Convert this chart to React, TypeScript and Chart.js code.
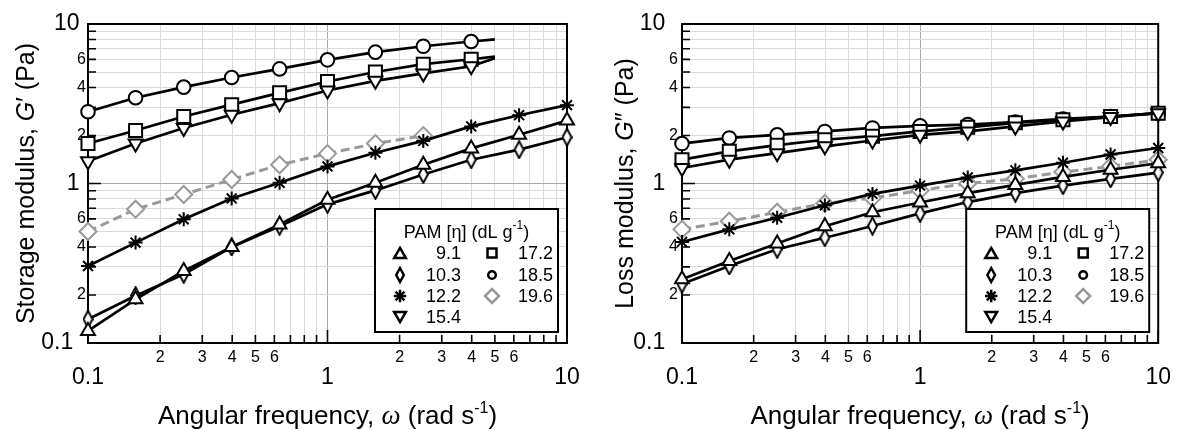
import React, { useEffect, useRef } from 'react';
import { Chart, registerables } from 'chart.js';
Chart.register(...registerables);

const FONT = 'Arial, "Liberation Sans", Helvetica, sans-serif';
const SERIF = '"Liberation Serif", "Times New Roman", serif';
const GRAY = '#999999';

// angular frequency (rad/s)
const omega = [0.1, 0.158, 0.251, 0.398, 0.631, 1.0, 1.585, 2.512, 3.981, 6.31, 10];
const omegaFitEnd = [0.1, 0.158, 0.251, 0.398, 0.631, 1.0, 1.585, 2.512, 3.981, 5.0];
const omegaGray = [0.1, 0.158, 0.251, 0.398, 0.631, 1.0, 1.585, 2.512];

// Storage modulus G' (Pa)
const gp91 = [0.119, 0.188, 0.283, 0.4, 0.554, 0.79, 1.01, 1.31, 1.66, 2.02, 2.48];
const gp103 = [0.141, 0.198, 0.27, 0.4, 0.54, 0.74, 0.905, 1.14, 1.41, 1.63, 1.95];
const gp122 = [0.304, 0.426, 0.596, 0.806, 1.01, 1.28, 1.56, 1.85, 2.28, 2.68, 3.1];
const gp154 = [1.38, 1.78, 2.23, 2.7, 3.19, 3.83, 4.4, 4.9, 5.43, 6.1];
const gp172 = [1.78, 2.15, 2.63, 3.12, 3.7, 4.36, 5.0, 5.6, 6.01, 6.25];
const gp185 = [2.82, 3.45, 4.02, 4.62, 5.23, 5.96, 6.66, 7.25, 7.77, 8.0];
const gp196 = [0.5, 0.69, 0.853, 1.06, 1.31, 1.54, 1.78, 1.995];

// Loss modulus G'' (Pa)
const gpp91 = [0.251, 0.327, 0.42, 0.54, 0.66, 0.76, 0.87, 0.98, 1.1, 1.22, 1.34];
const gpp103 = [0.234, 0.304, 0.387, 0.457, 0.541, 0.65, 0.765, 0.87, 0.97, 1.07, 1.17];
const gpp122 = [0.43, 0.516, 0.61, 0.73, 0.86, 0.97, 1.09, 1.21, 1.35, 1.52, 1.67];
const gpp154 = [1.25, 1.41, 1.55, 1.71, 1.86, 2.02, 2.12, 2.28, 2.45, 2.61, 2.76];
const gpp172 = [1.41, 1.59, 1.74, 1.88, 1.98, 2.12, 2.25, 2.4, 2.51, 2.63, 2.76];
const gpp185 = [1.78, 1.93, 2.02, 2.12, 2.23, 2.3, 2.34, 2.43, 2.54, 2.63, 2.76];
const gpp196 = [0.516, 0.58, 0.66, 0.75, 0.81, 0.905, 1.0, 1.07, 1.18, 1.28, 1.41];

// axis ticks
const tickValues = [0.1, 0.2, 0.3, 0.4, 0.5, 0.6, 0.7, 0.8, 0.9, 1, 2, 3, 4, 5, 6, 7, 8, 9, 10];
const majorTicks = [0.1, 1, 10];
const majorTickLabels = ['0.1', '1', '10'];
const xMinorDigits = [2, 3, 4, 5, 6];
const yMinorDigits = [2, 4, 6];

// legend
const legendTitle = 'PAM [η] (dL g';
const legendCol1 = [
  { label: '9.1', kind: 'tri' },
  { label: '10.3', kind: 'dia' },
  { label: '12.2', kind: 'star' },
  { label: '15.4', kind: 'tridown' },
];
const legendCol2 = [
  { label: '17.2', kind: 'sq' },
  { label: '18.5', kind: 'circ' },
  { label: '19.6', kind: 'gdia' },
];

type Series = { label: string; x: number[]; y: number[]; kind: string; hideLast?: boolean };

const storageSeries: Series[] = [
  { label: '9.1', x: omega, y: gp91, kind: 'tri' },
  { label: '10.3', x: omega, y: gp103, kind: 'dia' },
  { label: '12.2', x: omega, y: gp122, kind: 'star' },
  { label: '15.4', x: omegaFitEnd, y: gp154, kind: 'tridown', hideLast: true },
  { label: '17.2', x: omegaFitEnd, y: gp172, kind: 'sq', hideLast: true },
  { label: '18.5', x: omegaFitEnd, y: gp185, kind: 'circ', hideLast: true },
  { label: '19.6', x: omegaGray, y: gp196, kind: 'gdia' },
];
const lossSeries: Series[] = [
  { label: '9.1', x: omega, y: gpp91, kind: 'tri' },
  { label: '10.3', x: omega, y: gpp103, kind: 'dia' },
  { label: '12.2', x: omega, y: gpp122, kind: 'star' },
  { label: '15.4', x: omega, y: gpp154, kind: 'tridown' },
  { label: '17.2', x: omega, y: gpp172, kind: 'sq' },
  { label: '18.5', x: omega, y: gpp185, kind: 'circ' },
  { label: '19.6', x: omega, y: gpp196, kind: 'gdia' },
];

const isMajor = (v: number) => majorTicks.some((m) => Math.abs(m - v) < 1e-9);
const mantissa = (v: number) => Math.round(v / Math.pow(10, Math.floor(Math.log10(v) + 1e-9)));
const majorLabel = (v: number) => majorTickLabels[majorTicks.findIndex((m) => Math.abs(m - v) < 1e-9)];

type Seg = { t: string; f: string; rise?: number };
function drawRich(ctx: CanvasRenderingContext2D, segs: Seg[], x: number, y: number, align: string, rot: number) {
  ctx.save();
  ctx.translate(x, y);
  ctx.rotate(rot);
  ctx.textBaseline = 'alphabetic';
  ctx.textAlign = 'left';
  ctx.fillStyle = '#000';
  const widths = segs.map((s) => {
    ctx.font = s.f;
    return ctx.measureText(s.t).width;
  });
  const total = widths.reduce((a, b) => a + b, 0);
  let cx = align === 'center' ? -total / 2 : align === 'right' ? -total : 0;
  segs.forEach((s, i) => {
    ctx.font = s.f;
    ctx.fillText(s.t, cx, -(s.rise || 0));
    cx += widths[i];
  });
  ctx.restore();
}

function drawLegendMarker(ctx: CanvasRenderingContext2D, kind: string, x: number, y: number) {
  ctx.save();
  ctx.lineWidth = 2.5;
  ctx.strokeStyle = kind === 'gdia' ? GRAY : '#000';
  ctx.fillStyle = '#fff';
  ctx.beginPath();
  if (kind === 'tri') {
    const r = 6.8;
    const yc = y + r / 4;
    ctx.moveTo(x, yc - r);
    ctx.lineTo(x + r * 0.866, yc + r / 2);
    ctx.lineTo(x - r * 0.866, yc + r / 2);
    ctx.closePath();
  } else if (kind === 'tridown') {
    const r = 6.8;
    const yc = y - r / 4;
    ctx.moveTo(x, yc + r);
    ctx.lineTo(x + r * 0.866, yc - r / 2);
    ctx.lineTo(x - r * 0.866, yc - r / 2);
    ctx.closePath();
  } else if (kind === 'dia') {
    ctx.moveTo(x, y - 7);
    ctx.lineTo(x + 3.8, y);
    ctx.lineTo(x, y + 7);
    ctx.lineTo(x - 3.8, y);
    ctx.closePath();
  } else if (kind === 'star') {
    const r = 6.2;
    for (let k = 0; k < 4; k++) {
      const a = (k * Math.PI) / 4;
      ctx.moveTo(x - r * Math.sin(a), y - r * Math.cos(a));
      ctx.lineTo(x + r * Math.sin(a), y + r * Math.cos(a));
    }
  } else if (kind === 'sq') {
    ctx.rect(x - 4.5, y - 4.5, 9, 9);
  } else if (kind === 'circ') {
    ctx.arc(x, y, 3.8, 0, Math.PI * 2);
  } else if (kind === 'gdia') {
    ctx.moveTo(x - 7, y);
    ctx.lineTo(x, y - 7);
    ctx.lineTo(x + 7, y);
    ctx.lineTo(x, y + 7);
    ctx.closePath();
  }
  if (kind !== 'star') ctx.fill();
  ctx.stroke();
  ctx.restore();
}

function makeNarrowDiamond(): HTMLCanvasElement {
  const c = document.createElement('canvas');
  c.width = 11;
  c.height = 19;
  const g = c.getContext('2d')!;
  g.lineWidth = 1.9;
  g.strokeStyle = '#000';
  g.fillStyle = '#fff';
  g.beginPath();
  g.moveTo(5.5, 1);
  g.lineTo(10, 9.5);
  g.lineTo(5.5, 18);
  g.lineTo(1, 9.5);
  g.closePath();
  g.fill();
  g.stroke();
  return c;
}

type PanelCfg = {
  left: number;
  series: Series[];
  yTitle: Seg[];
  yTitleX: number;
  padL: number;
  padR: number;
  yPad: number;
  yMajorSuffix: string[];
};

function Panel({ cfg }: { cfg: PanelCfg }) {
  const ref = useRef<HTMLCanvasElement>(null);
  useEffect(() => {
    const dia = makeNarrowDiamond();
    const markerOpts = (kind: string) => {
      switch (kind) {
        case 'tri':
          return { pointStyle: 'triangle', r: 8, rot: 0 };
        case 'tridown':
          return { pointStyle: 'triangle', r: 8, rot: 180 };
        case 'dia':
          return { pointStyle: dia, r: 9, rot: 0 };
        case 'star':
          return { pointStyle: 'star', r: 7, rot: 0 };
        case 'sq':
          return { pointStyle: 'rect', r: 9.2, rot: 0 };
        case 'circ':
          return { pointStyle: 'circle', r: 6.8, rot: 0 };
        default:
          return { pointStyle: 'rectRot', r: 8.5, rot: 0 };
      }
    };
    const datasets = cfg.series.map((s) => {
      const m = markerOpts(s.kind);
      const gray = s.kind === 'gdia';
      const radii = s.x.map((_, i) => (s.hideLast && i === s.x.length - 1 ? 0 : m.r));
      return {
        label: s.label,
        data: s.x.map((xv, i) => ({ x: xv, y: s.y[i] })),
        borderColor: gray ? GRAY : '#000',
        borderWidth: gray ? 3 : 2.7,
        borderDash: gray ? [9, 5] : [],
        pointStyle: m.pointStyle as any,
        pointRadius: radii,
        pointRotation: m.rot,
        pointBorderColor: gray ? GRAY : '#000',
        pointBackgroundColor: '#fff',
        pointBorderWidth: 2,
        tension: 0,
        fill: false,
        clip: false as any,
      };
    });

    const tickFont = (big: boolean, lh: number) => ({ family: FONT, size: big ? 23 : 16, lineHeight: lh });

    const framePlugin = {
      id: 'frameTicks',
      beforeDatasetsDraw(chart: any) {
        const { ctx, chartArea: ca, scales } = chart;
        ctx.save();
        ctx.strokeStyle = '#000';
        ctx.lineWidth = 1.6;
        ctx.beginPath();
        tickValues.forEach((v) => {
          const len = isMajor(v) ? 13 : 8;
          const px = scales.x.getPixelForValue(v);
          ctx.moveTo(px, ca.bottom);
          ctx.lineTo(px, ca.bottom - len);
          const py = scales.y.getPixelForValue(v);
          ctx.moveTo(ca.left, py);
          ctx.lineTo(ca.left + len, py);
        });
        ctx.stroke();
        ctx.lineWidth = 2;
        ctx.strokeRect(ca.left, ca.top, ca.right - ca.left, ca.bottom - ca.top);
        ctx.restore();
      },
      afterDraw(chart: any) {
        const { ctx, chartArea: ca } = chart;
        // axis titles
        drawRich(
          ctx,
          [
            { t: 'Angular frequency, ', f: `26px ${FONT}` },
            { t: 'ω', f: `italic 27px ${SERIF}` },
            { t: ' (rad s', f: `26px ${FONT}` },
            { t: '-1', f: `16px ${FONT}`, rise: 11 },
            { t: ')', f: `26px ${FONT}` },
          ],
          (ca.left + ca.right) / 2,
          424,
          'center',
          0
        );
        drawRich(ctx, cfg.yTitle, cfg.yTitleX, (ca.top + ca.bottom) / 2, 'center', -Math.PI / 2);
        // legend box
        const w = 183;
        const h = 123;
        const bx = ca.right - 9 - w;
        const by = ca.bottom - 11 - h;
        ctx.save();
        ctx.fillStyle = '#fff';
        ctx.fillRect(bx, by, w, h);
        ctx.strokeStyle = '#000';
        ctx.lineWidth = 2;
        ctx.strokeRect(bx, by, w, h);
        ctx.restore();
        drawRich(
          ctx,
          [
            { t: legendTitle, f: `18px ${FONT}` },
            { t: '-1', f: `12px ${FONT}`, rise: 9 },
            { t: ')', f: `18px ${FONT}` },
          ],
          bx + w / 2,
          by + 29,
          'center',
          0
        );
        const rows = [44, 66, 87, 108];
        ctx.save();
        ctx.font = `18px ${FONT}`;
        ctx.fillStyle = '#000';
        ctx.textAlign = 'right';
        ctx.textBaseline = 'middle';
        legendCol1.forEach((e, i) => {
          drawLegendMarker(ctx, e.kind, bx + 25, by + rows[i]);
          ctx.fillText(e.label, bx + 86, by + rows[i] + 1);
        });
        legendCol2.forEach((e, i) => {
          drawLegendMarker(ctx, e.kind, bx + 117, by + rows[i]);
          ctx.fillText(e.label, bx + 178, by + rows[i] + 1);
        });
        ctx.restore();
      },
    };

    const gridColor = (c: any) => (c.tick && isMajor(c.tick.value) ? '#a8a8a8' : '#dadada');

    const chart = new Chart(ref.current!, {
      type: 'line',
      data: { datasets: datasets as any },
      options: {
        animation: false,
        responsive: false,
        devicePixelRatio: 1,
        layout: { padding: { left: 0, right: cfg.padR, top: 24, bottom: 0 } },
        plugins: { legend: { display: false }, tooltip: { enabled: false } },
        scales: {
          x: {
            type: 'logarithmic',
            min: 0.1,
            max: 10,
            afterBuildTicks: (s: any) => {
              s.ticks = tickValues.map((v) => ({ value: v, major: isMajor(v) }));
            },
            afterFit: (s: any) => {
              s.height = 87;
            },
            grid: { color: gridColor, lineWidth: 1, drawTicks: false },
            border: { display: false },
            ticks: {
              autoSkip: false,
              maxRotation: 0,
              minRotation: 0,
              padding: 7,
              color: '#000',
              font: (c: any) => (c.tick && isMajor(c.tick.value) ? tickFont(true, 0.8) : tickFont(false, 1)),
              callback: (v: any) => {
                const n = Number(v);
                if (isMajor(n)) return ['', majorLabel(n)];
                const d = mantissa(n);
                return xMinorDigits.includes(d) ? String(d) : '';
              },
            },
          },
          y: {
            type: 'logarithmic',
            min: 0.1,
            max: 10,
            afterBuildTicks: (s: any) => {
              s.ticks = tickValues.map((v) => ({ value: v, major: isMajor(v) }));
            },
            afterFit: (s: any) => {
              s.width = cfg.padL;
            },
            grid: { color: gridColor, lineWidth: 1, drawTicks: false },
            border: { display: false },
            ticks: {
              autoSkip: false,
              padding: cfg.yPad,
              color: '#000',
              font: (c: any) => (c.tick && isMajor(c.tick.value) ? tickFont(true, 1) : tickFont(false, 1)),
              callback: (v: any) => {
                const n = Number(v);
                if (isMajor(n)) {
                  const idx = majorTicks.findIndex((m) => Math.abs(m - n) < 1e-9);
                  return majorLabel(n) + cfg.yMajorSuffix[idx];
                }
                const d = mantissa(n);
                return yMinorDigits.includes(d) ? String(d) : '';
              },
            },
          },
        },
      } as any,
      plugins: [framePlugin],
    });
    return () => chart.destroy();
  }, []);
  return (
    <div style={{ position: 'absolute', left: cfg.left, top: 0, width: 589, height: 430 }}>
      <canvas ref={ref} width={589} height={430} style={{ width: 589, height: 430, display: 'block' }} />
    </div>
  );
}

const leftCfg: PanelCfg = {
  left: 0,
  series: storageSeries,
  yTitle: [
    { t: 'Storage modulus, ', f: `25px ${FONT}` },
    { t: 'G', f: `italic 25px ${FONT}` },
    { t: '′', f: `25px ${FONT}` },
    { t: ' (Pa)', f: `25px ${FONT}` },
  ],
  yTitleX: 34,
  padL: 88,
  padR: 22,
  yPad: 2,
  yMajorSuffix: ['  ', ' ', ' '],
};

const rightCfg: PanelCfg = {
  left: 589,
  series: lossSeries,
  yTitle: [
    { t: 'Loss modulus, ', f: `25px ${FONT}` },
    { t: 'G', f: `italic 25px ${FONT}` },
    { t: '″', f: `25px ${FONT}` },
    { t: ' (Pa)', f: `25px ${FONT}` },
  ],
  yTitleX: 44,
  padL: 93,
  padR: 16,
  yPad: 4,
  yMajorSuffix: ['  ', '  ', '  '],
};

export default function App() {
  return (
    <div style={{ position: 'absolute', left: 0, top: 0, width: 1178, height: 430, background: '#fff' }}>
      <Panel cfg={leftCfg} />
      <Panel cfg={rightCfg} />
    </div>
  );
}
